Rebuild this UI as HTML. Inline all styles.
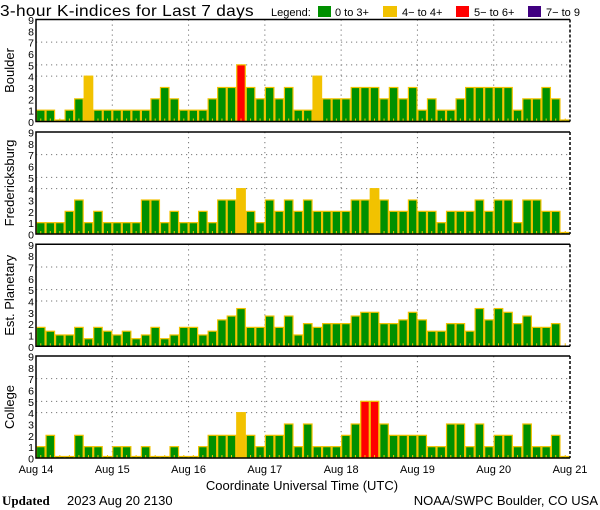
<!DOCTYPE html>
<html><head><meta charset="utf-8"><style>
body{margin:0;background:#fff;}
svg{display:block;font-family:"Liberation Sans",sans-serif;}
</style></head><body>
<svg id="chart" width="600" height="510" viewBox="0 0 600 510">
<text x="0" y="16" font-size="16" textLength="254" lengthAdjust="spacingAndGlyphs" letter-spacing="0.3">3-hour K-indices for Last 7 days</text>
<g font-size="11">
<text x="271" y="16">Legend:</text>
<rect x="318" y="6" width="13" height="11" fill="#009000"/>
<text x="335" y="16">0 to 3+</text>
<rect x="383" y="6" width="14" height="11" fill="#f2c200"/>
<text x="402" y="16">4− to 4+</text>
<rect x="456" y="6" width="13" height="11" fill="#ff0000"/>
<text x="474" y="16">5− to 6+</text>
<rect x="528" y="6" width="13" height="11" fill="#400080"/>
<text x="546" y="16">7− to 9</text>
</g>
<g id="panels"></g>
<g id="xaxis" font-size="11"></g>
<text x="302" y="490" font-size="13" text-anchor="middle">Coordinate Universal Time (UTC)</text>
<text x="2" y="505" font-size="13" font-family="Liberation Serif, serif" font-weight="bold">Updated</text>
<text x="67" y="505" font-size="13">2023 Aug 20 2130</text>
<text x="598" y="505" font-size="13" text-anchor="end">NOAA/SWPC Boulder, CO USA</text>
</svg>
<script>
const days = ["Aug 14","Aug 15","Aug 16","Aug 17","Aug 18","Aug 19","Aug 20","Aug 21"];
const stations = ["Boulder","Fredericksburg","Est. Planetary","College"];
const boulder = [1,1,0,1,2,4,1,1, 1,1,1,1,2,3,2,1, 1,1,2,3,3,5,3,2, 3,2,3,1,1,4,2,2, 2,3,3,3,2,3,2,3, 1,2,1,1,2,3,3,3, 3,3,1,2,2,3,2,0];
const fredericksburg = [1,1,1,2,3,1,2,1, 1,1,1,3,3,1,2,1, 1,2,1,3,3,4,2,1, 3,2,3,2,3,2,2,2, 2,3,3,4,3,2,2,3, 2,2,1,2,2,2,3,2, 3,3,1,3,3,2,2,0];
const planetary = [1.67,1.33,1,1,1.67,0.67,1.67,1.33, 1,1.33,0.67,1,1.67,0.67,1,1.67, 1.67,1,1.33,2.33,2.67,3.33,1.67,1.67, 2.67,1.67,2.67,1,2,1.67,2,2, 2,2.67,3,3,2,2,2.33,3, 2.33,1.33,1.33,2,2,1.33,3.33,2.33, 3.33,3,2,2.67,1.67,1.67,2,null];
const college = [1,2,0,0,2,1,1,0, 1,1,0,1,0,0,1,0, 0,1,2,2,2,4,2,1, 2,2,3,1,3,1,1,1, 2,3,5,5,3,2,2,2, 2,1,1,3,3,1,3,1, 2,2,1,3,1,1,2,0];
const series = [boulder, fredericksburg, planetary, college];
const yTicks = [0,1,2,3,4,5,6,7,8,9];
const gridLevels = [4,5,7];

const NS="http://www.w3.org/2000/svg";
const X0=36, X1=570, PH=102, panelTops=[19.5,132,244.3,356];
const nBars=56;
function xScale(i){return X0+(X1-X0)*i/nBars;}
function yScale(v,top){return top+PH-v*PH/9;}
function color(v){return v>=7?"#400080":v>=5?"#ff0000":v>=4?"#f2c200":"#009000";}
function el(tag,attrs,parent){const e=document.createElementNS(NS,tag);for(const k in attrs)e.setAttribute(k,attrs[k]);parent.appendChild(e);return e;}
const panels=document.getElementById("panels");
series.forEach((data,p)=>{
  const top=panelTops[p], bot=top+PH;
  const g=el("g",{},panels);
  
  
  gridLevels.forEach(l=>{
    const ln=el("line",{x1:X0,x2:X1,y1:yScale(l,top),y2:yScale(l,top),stroke:"#777","stroke-dasharray":"1.2,3.8","stroke-width":1},g);
    
    
  });
  for(let d=1;d<7;d++){
    const x=xScale(d*8);
    const ln=el("line",{x1:x,x2:x,y1:top,y2:bot,stroke:"#777","stroke-dasharray":"1.2,3.8","stroke-width":1},g);
    
    
  }
  data.forEach((v,i)=>{
    const x=xScale(i), w=xScale(i+1)-x;
    if(v!==null){
      const h=Math.max(v*PH/9,1.5);
      const r=el("rect",{x:x+0.5,y:bot-h,width:w-1,height:h,fill:color(v),stroke:"#f2c200","stroke-width":1.2},g);
      
      
    }
    const t=el("line",{x1:x+w/2,x2:x+w/2,y1:bot-3,y2:bot,stroke:"#f2c200","stroke-width":1},g);
    
    
  });
  const b=el("path",{d:`M${X1},${top} H${X0} V${bot} H${X1}`,fill:"none",stroke:"#000","stroke-width":1.5},g);
  
  
  const rb=el("line",{x1:X1,x2:X1,y1:top,y2:bot,stroke:"#000","stroke-width":1.5,"stroke-dasharray":"3,2"},g);
  
  
  yTicks.forEach(t=>{
    const tx=el("text",{x:34,y:yScale(t,top)+4.5,"font-size":10.5,"text-anchor":"end"},g);
    tx.textContent=t;
    
    
  });
  const lbl=el("text",{x:0,y:0,"font-size":13,"text-anchor":"middle",transform:`translate(14,${top+PH/2}) rotate(-90)`},g);
  lbl.textContent=stations[p];
  
  
});
const xa=document.getElementById("xaxis");
days.forEach((d,i)=>{
  const t=el("text",{x:xScale(i*8),y:473,"text-anchor":"middle"},xa);
  t.textContent=d;
  
  
});
</script>
</body></html>
